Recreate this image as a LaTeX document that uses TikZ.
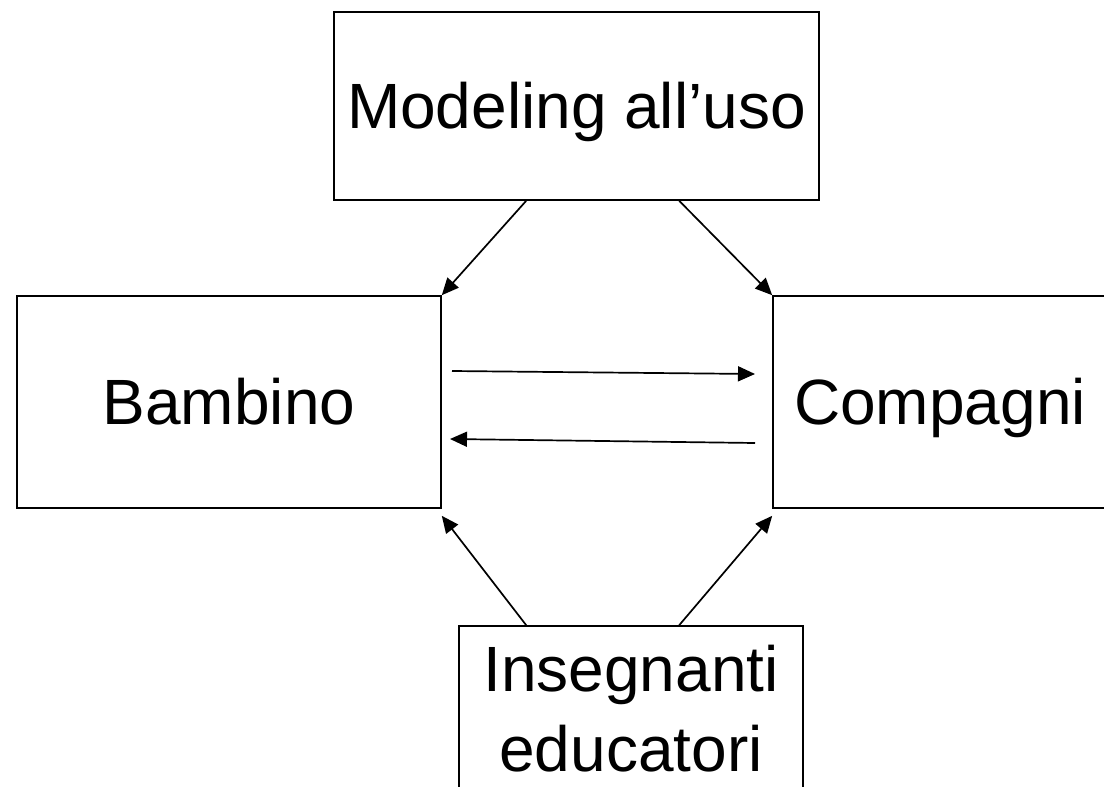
\documentclass[tikz,border=0pt]{standalone}
\usepackage{fontspec}
\setmainfont{Liberation Sans}
\usetikzlibrary{arrows.meta,calc}
\tikzset{
  box/.style={draw=black, line width=1.6pt, fill=white, inner sep=0pt,
    font=\fontsize{64}{80}\selectfont, text=black},
  oneline/.style={text height=45.8pt, text depth=0pt},
  conn/.style={draw=black, line width=1.7pt,
    -{Triangle[length=17pt,width=15pt]}, shorten >=0pt}
}
\begin{document}
\begin{tikzpicture}[x=1pt,y=-1pt]
\useasboundingbox (0,0) rectangle (1104,787);
\clip (0,0) rectangle (1104,787);
\fill[white] (0,0) rectangle (1104,787);
% boxes
\node[box, oneline, minimum width=485pt, minimum height=188pt] (top) at (576.5,106) {Modeling all’uso};
\node[box, oneline, minimum width=424pt, minimum height=212pt] (bam) at (229,402) {Bambino};
\node[box, oneline, minimum width=334pt, minimum height=212pt] (comp) at (940,402) {Compagni};
\node[box, align=center, minimum width=344pt, minimum height=166pt] (ins) at (631,709) {Insegnanti\\educatori};
% connectors from top
\draw[conn] ([xshift=193pt]top.south west) -- (bam.north east);
\draw[conn] ([xshift=346pt]top.south west) -- (comp.north west);
% connectors from bottom
\draw[conn] ([xshift=68pt]ins.north west) -- ([yshift=-7pt]bam.south east);
\draw[conn] ([xshift=221pt]ins.north west) -- ([yshift=-7pt]comp.south west);
% horizontal exchanges
\coordinate (h1s) at (452,371);
\coordinate (h1e) at (755,374);
\coordinate (h2s) at (755,443);
\coordinate (h2e) at (450,439);
\draw[conn] (h1s) -- (h1e);
\draw[conn] (h2s) -- (h2e);
\end{tikzpicture}
\end{document}
